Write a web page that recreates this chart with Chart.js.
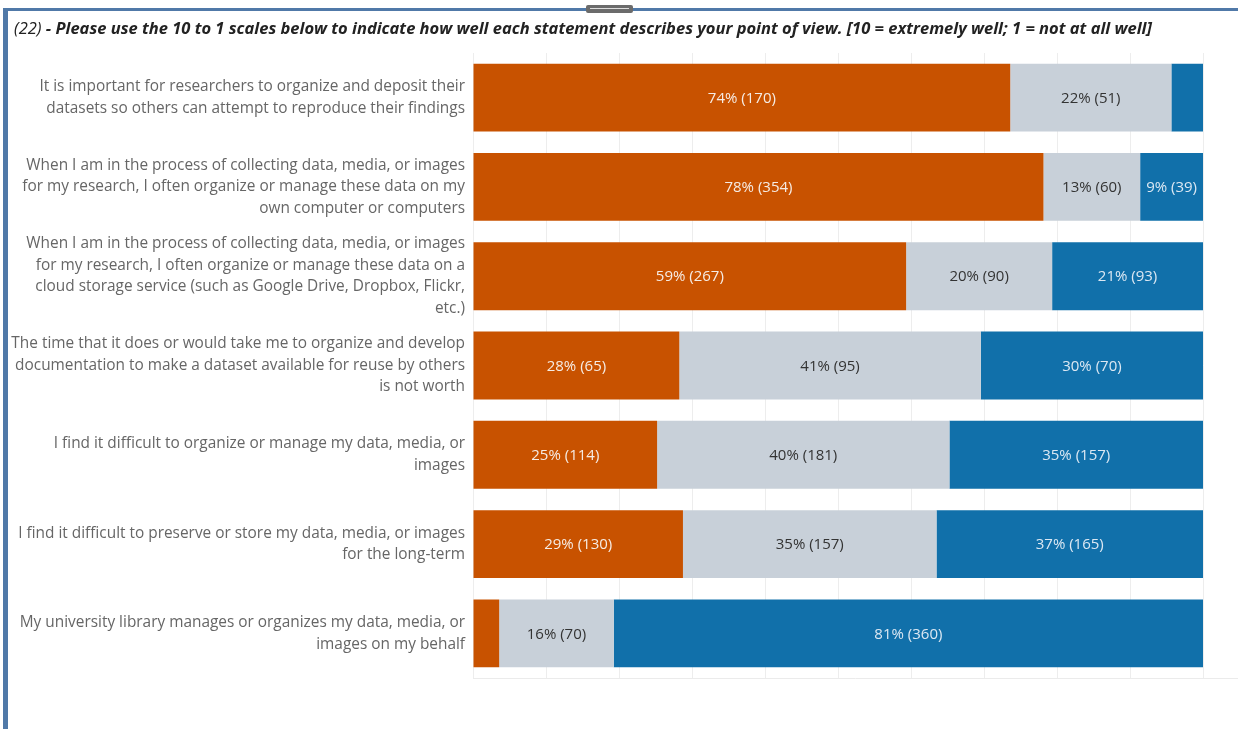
<!DOCTYPE html>
<html>
<head>
<meta charset="utf-8">
<script src="https://cdn.jsdelivr.net/npm/chart.js@4"></script>
<style>
  body { margin: 0; background: #fff; }
  #wrap { position: relative; width: 1238px; height: 729px; overflow: hidden; }
  #frameTop { position: absolute; left: 3px; top: 8px; width: 1235px; height: 3px; background: #5079a8; }
  #frameLeft { position: absolute; left: 3px; top: 8px; width: 5px; height: 721px; background: #5079a8; }
  #handle { position: absolute; left: 586px; top: 5px; width: 47px; height: 8px; background: #6b6b6b; border-radius: 2px; }
  #handle div { position: absolute; left: 4px; right: 4px; top: 3px; height: 1px; background: #ddd; }
  #title { position: absolute; left: 14px; top: 16px; font-family: "Open Sans", sans-serif; font-size: 16.5px; font-style: italic; color: #222; white-space: nowrap; }
  #title b { font-weight: 700; }
  canvas { position: absolute; left: 0; top: 0; }
</style>
</head>
<body>
<div id="wrap">
  <canvas id="chart" width="1238" height="729"></canvas>
  <div id="frameTop"></div>
  <div id="frameLeft"></div>
  <div id="handle"><div></div></div>
  <div id="title">(22) <b>- Please use the 10 to 1 scales below to indicate how well each statement describes your point of view. [10 = extremely well; 1 = not at all well]</b></div>
</div>
<script>
// statements (already wrapped the way they show up)
const statements = [
    ["It is important for researchers to organize and deposit their", "datasets so others can attempt to reproduce their findings"],
    ["When I am in the process of collecting data, media, or images", "for my research, I often organize or manage these data on my", "own computer or computers"],
    ["When I am in the process of collecting data, media, or images", "for my research, I often organize or manage these data on a", "cloud storage service (such as Google Drive, Dropbox, Flickr,", "etc.)"],
    ["The time that it does or would take me to organize and develop", "documentation to make a dataset available for reuse by others", "is not worth"],
    ["I find it difficult to organize or manage my data, media, or", "images"],
    ["I find it difficult to preserve or store my data, media, or images", "for the long-term"],
    ["My university library manages or organizes my data, media, or", "images on my behalf"]
];

// response counts per group
const highCounts = [170, 354, 267, 65, 114, 130, 16];
const midCounts = [51, 60, 90, 95, 181, 157, 70];
const lowCounts = [10, 39, 93, 70, 157, 165, 360];

const groupNames = ["8-10", "4-7", "1-3"];
const groupColors = ["#c85200", "#c8d0d9", "#1170aa"];
const labelColors = ["#f6ece4", "#333333", "#dce8f3"];

const allCounts = [highCounts, midCounts, lowCounts];
const totals = statements.map((_, i) => highCounts[i] + midCounts[i] + lowCounts[i]);
const share = counts => counts.map((c, i) => c / totals[i] * 100);

const segLabels = {
    id: 'segLabels',
    afterDatasetsDraw(chart) {
        const ctx = chart.ctx;
        ctx.save();
        ctx.font = '15px "Open Sans", sans-serif';
        ctx.textAlign = 'center';
        ctx.textBaseline = 'middle';
        chart.data.datasets.forEach((ds, d) => {
            chart.getDatasetMeta(d).data.forEach((bar, i) => {
                const cnt = allCounts[d][i];
                const txt = Math.round(ds.data[i]) + '% (' + cnt + ')';
                const w = bar.x - bar.base;
                if (ctx.measureText(txt).width + 2 > w) return;
                ctx.fillStyle = labelColors[d];
                ctx.fillText(txt, (bar.x + bar.base) / 2, bar.y + 1);
            });
        });
        // bottom rule
        const a = chart.chartArea;
        ctx.strokeStyle = '#ebebeb';
        ctx.lineWidth = 1;
        ctx.beginPath();
        ctx.moveTo(a.left, Math.round(a.bottom) + 0.5);
        ctx.lineTo(chart.width, Math.round(a.bottom) + 0.5);
        ctx.stroke();
        ctx.restore();
    }
};

new Chart(document.getElementById('chart'), {
    type: 'bar',
    data: {
        labels: statements,
        datasets: allCounts.map((c, d) => ({
            label: groupNames[d],
            data: share(c),
            backgroundColor: groupColors[d],
            borderWidth: 0,
            barPercentage: 0.76,
            categoryPercentage: 1
        }))
    },
    options: {
        indexAxis: 'y',
        responsive: false,
        animation: false,
        layout: { padding: { top: 53, bottom: 51, right: 35, left: 0 } },
        plugins: {
            legend: { display: false },
            tooltip: { enabled: false }
        },
        scales: {
            x: {
                stacked: true,
                min: 0,
                max: 100,
                ticks: { display: false, stepSize: 10 },
                grid: { color: '#ededed', drawTicks: false },
                border: { display: false },
                afterFit(s) { s.height = 0; }
            },
            y: {
                stacked: true,
                grid: { display: false, drawTicks: false },
                border: { display: false },
                ticks: {
                    padding: 8,
                    color: '#666',
                    font: { family: '"Open Sans", sans-serif', size: 15.4, lineHeight: 1.4 }
                },
                afterFit(s) { s.width = 473; }
            }
        }
    },
    plugins: [segLabels]
});
</script>
</body>
</html>
